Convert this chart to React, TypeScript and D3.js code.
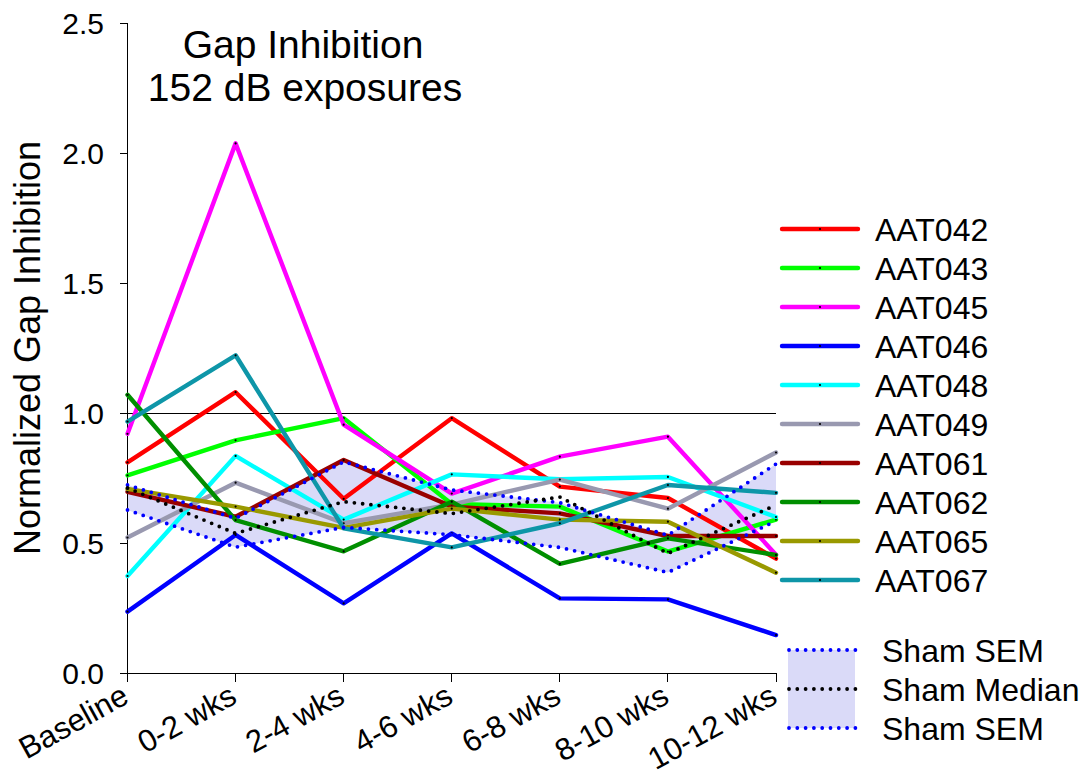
import React from "react";
import * as d3 from "d3";

const categories = ["Baseline", "0-2 wks", "2-4 wks", "4-6 wks", "6-8 wks", "8-10 wks", "10-12 wks"];
const yTicks = [0, 0.5, 1.0, 1.5, 2.0, 2.5];

const aat042 = [0.81, 1.08, 0.67, 0.98, 0.717, 0.673, 0.44];
const aat043 = [0.76, 0.895, 0.98, 0.65, 0.64, 0.467, 0.59];
const aat045 = [0.92, 2.037, 0.955, 0.69, 0.832, 0.909, 0.455];
const aat046 = [0.236, 0.531, 0.268, 0.537, 0.287, 0.283, 0.146];
const aat048 = [0.373, 0.835, 0.59, 0.764, 0.745, 0.754, 0.6];
const aat049 = [0.521, 0.732, 0.576, 0.648, 0.744, 0.632, 0.848];
const aat061 = [0.697, 0.601, 0.819, 0.64, 0.614, 0.527, 0.527];
const aat062 = [1.07, 0.588, 0.468, 0.659, 0.42, 0.518, 0.454];
const aat065 = [0.708, 0.64, 0.558, 0.632, 0.59, 0.582, 0.386];
const aat067 = [0.967, 1.222, 0.556, 0.483, 0.576, 0.723, 0.693];

const shamUpper = [0.723, 0.595, 0.812, 0.704, 0.655, 0.53, 0.804];
const shamMedian = [0.712, 0.537, 0.659, 0.613, 0.677, 0.46, 0.646];
const shamLower = [0.627, 0.484, 0.56, 0.532, 0.483, 0.387, 0.585];

const seriesNames = ["AAT042", "AAT043", "AAT045", "AAT046", "AAT048", "AAT049", "AAT061", "AAT062", "AAT065", "AAT067"];
const seriesValues = [aat042, aat043, aat045, aat046, aat048, aat049, aat061, aat062, aat065, aat067];
const seriesColors = ["#ff0000", "#00ff00", "#ff00ff", "#0000ff", "#00ffff", "#9999b0", "#990000", "#008f00", "#999900", "#0e96a8"];

const shamLabels = ["Sham SEM", "Sham Median", "Sham SEM"];

const W = 1083;
const H = 770;
const FONT = "'Liberation Sans', Arial, sans-serif";

export default function App() {
  const x = d3.scalePoint<string>().domain(categories).range([127.5, 776]);
  const y = d3.scaleLinear().domain([0, 2.5]).range([673, 23]);

  const line = d3
    .line<number>()
    .x((_, i) => x(categories[i]) as number)
    .y((d) => y(d));

  const area = d3
    .area<number>()
    .x((_, i) => x(categories[i]) as number)
    .y0((_, i) => y(shamLower[i]))
    .y1((d) => y(d));

  const x0 = x(categories[0]) as number;
  const x1 = x(categories[categories.length - 1]) as number;

  const legendX1 = 782;
  const legendX2 = 858;
  const legendTextX = 875;
  const legendY0 = 229;
  const legendStep = 39;

  const shamBoxTop = 650;
  const shamBoxBottom = 728;
  const shamMid = (shamBoxTop + shamBoxBottom) / 2;
  const shamRowsY = [shamBoxTop, shamMid, shamBoxBottom];

  const SW = 4.4;

  return (
    <svg
      width={W}
      height={H}
      style={{ position: "absolute", left: 0, top: 0, background: "#fff" }}
      fontFamily={FONT}
    >
      {/* sham SEM band */}
      <path d={area(shamUpper) || ""} fill="#dadaf8" stroke="none" />

      {/* reference line at 1.0 */}
      <line x1={x0} x2={x1} y1={y(1) + 0.5} y2={y(1) + 0.5} stroke="#000" strokeWidth={1} shapeRendering="crispEdges" />

      {/* axes */}
      <line x1={x0 - 0.5} x2={x0 - 0.5} y1={y(2.5)} y2={y(0)} stroke="#000" strokeWidth={1} shapeRendering="crispEdges" />
      <line x1={120} x2={x1} y1={y(0) + 0.5} y2={y(0) + 0.5} stroke="#000" strokeWidth={1} shapeRendering="crispEdges" />
      {yTicks.map((t) => (
        <g key={t}>
          <line x1={120} x2={x0} y1={y(t) + 0.5} y2={y(t) + 0.5} stroke="#000" strokeWidth={1} shapeRendering="crispEdges" />
          <text x={104} y={y(t)} dy="0.36em" fontSize={30} textAnchor="end" fill="#000">
            {d3.format(".1f")(t)}
          </text>
        </g>
      ))}
      {categories.map((c) => {
        const cx = x(c) as number;
        return (
          <g key={c}>
            <line x1={cx} x2={cx} y1={y(0)} y2={y(0) + 9} stroke="#000" strokeWidth={1} shapeRendering="crispEdges" />
            <text
              transform={`translate(${cx + 3},${702}) rotate(-29)`}
              fontSize={31}
              textAnchor="end"
              fill="#000"
            >
              {c}
            </text>
          </g>
        );
      })}

      {/* series lines */}
      {seriesValues.map((vals, si) => (
        <g key={seriesNames[si]}>
          <path
            d={line(vals) || ""}
            fill="none"
            stroke={seriesColors[si]}
            strokeWidth={SW}
            strokeLinejoin="round"
            strokeLinecap="round"
          />
          {vals.map((v, i) => (
            <circle key={i} cx={x(categories[i]) as number} cy={y(v)} r={1.1} fill="#000" />
          ))}
        </g>
      ))}

      {/* sham dotted lines */}
      <path d={line(shamUpper) || ""} fill="none" stroke="#0000ff" strokeWidth={3.8} strokeDasharray="0 8.3" strokeLinecap="round" />
      <path d={line(shamLower) || ""} fill="none" stroke="#0000ff" strokeWidth={3.8} strokeDasharray="0 8.3" strokeLinecap="round" />
      <path d={line(shamMedian) || ""} fill="none" stroke="#000" strokeWidth={3.8} strokeDasharray="0 8.3" strokeLinecap="round" />

      {/* title */}
      <text x={303} y={58} fontSize={39} textAnchor="middle" fill="#000">Gap Inhibition</text>
      <text x={305} y={101} fontSize={39} textAnchor="middle" fill="#000">152 dB exposures</text>

      {/* y axis title */}
      <text transform="translate(40,348) rotate(-90)" fontSize={36} textAnchor="middle" fill="#000">
        Normalized Gap Inhibition
      </text>

      {/* legend */}
      {seriesNames.map((n, i) => {
        const ly = legendY0 + i * legendStep;
        return (
          <g key={n}>
            <line x1={legendX1} x2={legendX2} y1={ly} y2={ly} stroke={seriesColors[i]} strokeWidth={SW} strokeLinecap="round" />
            <circle cx={(legendX1 + legendX2) / 2} cy={ly} r={1.1} fill="#000" />
            <text x={legendTextX} y={ly} dy="0.36em" fontSize={32} fill="#000">{n}</text>
          </g>
        );
      })}
      <rect x={788} y={shamBoxTop} width={67} height={shamBoxBottom - shamBoxTop} fill="#dadaf8" />
      <line x1={789} x2={856} y1={shamBoxTop} y2={shamBoxTop} stroke="#0000ff" strokeWidth={3.8} strokeDasharray="0 8.3" strokeLinecap="round" />
      <line x1={789} x2={856} y1={shamMid} y2={shamMid} stroke="#000" strokeWidth={3.8} strokeDasharray="0 8.3" strokeLinecap="round" />
      <line x1={789} x2={856} y1={shamBoxBottom} y2={shamBoxBottom} stroke="#0000ff" strokeWidth={3.8} strokeDasharray="0 8.3" strokeLinecap="round" />
      {shamLabels.map((s, i) => (
        <text key={i} x={882} y={shamRowsY[i]} dy="0.36em" fontSize={32} fill="#000">{s}</text>
      ))}
    </svg>
  );
}
